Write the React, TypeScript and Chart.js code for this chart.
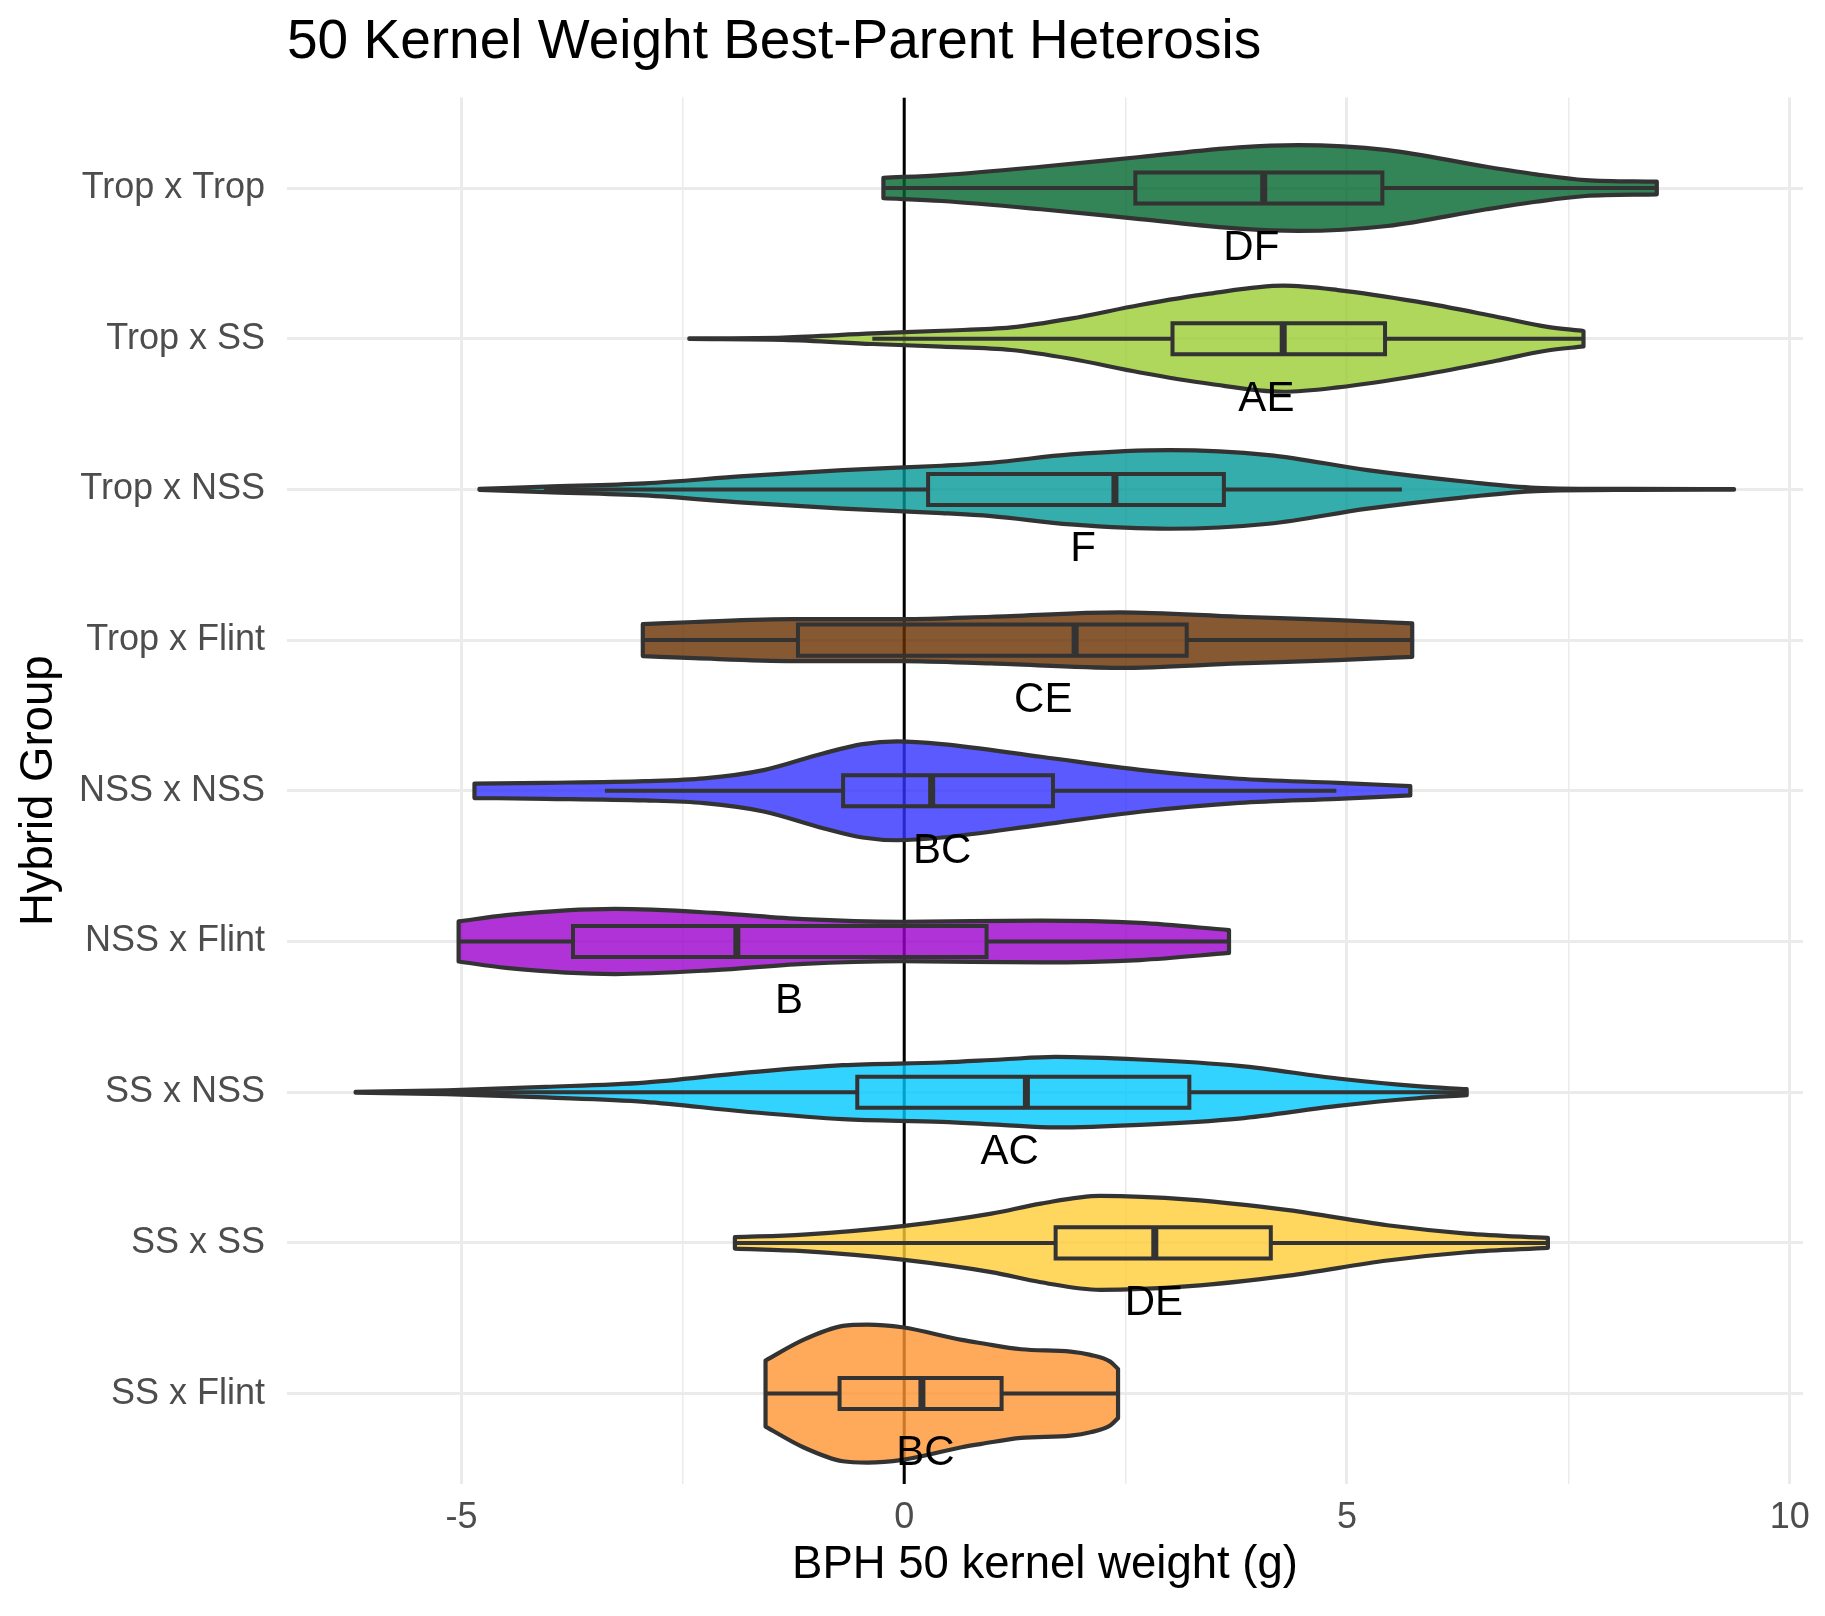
import React, { useEffect, useRef } from 'react';
import { Chart, registerables } from 'chart.js';

Chart.register(...registerables);

// ---------- data ----------
const categories = [
  'Trop x Trop', 'Trop x SS', 'Trop x NSS', 'Trop x Flint', 'NSS x NSS',
  'NSS x Flint', 'SS x NSS', 'SS x SS', 'SS x Flint',
];

const groupLetters = ['DF', 'AE', 'F', 'CE', 'BC', 'B', 'AC', 'DE', 'BC'];
const letterPositions = [3.92, 4.09, 2.02, 1.57, 0.43, -1.30, 1.19, 2.82, 0.24];

const whiskerLow = [-0.235, -0.36, -4.07, -2.95, -3.38, -5.03, -5.13, -1.91, -1.57];
const quartile1 = [2.61, 3.03, 0.27, -1.20, -0.69, -3.74, -0.53, 1.71, -0.73];
const medians = [4.06, 4.28, 2.38, 1.93, 0.31, -1.89, 1.38, 2.83, 0.20];
const quartile3 = [5.40, 5.43, 3.61, 3.19, 1.68, 0.93, 3.22, 4.14, 1.10];
const whiskerHigh = [8.50, 7.67, 5.62, 5.74, 4.88, 3.67, 6.35, 7.27, 2.42];

// density outline of each violin: BPH values and half-width (in category units)
const densityValues = [
  [-0.235, 0.425, 1.543, 2.662, 3.780, 4.450, 5.457, 6.576, 7.135, 7.694, 8.499],
  [-2.427, -1.364, -0.358, 0.425, 1.208, 1.879, 2.662, 3.445, 4.283, 4.898, 5.793, 6.688, 7.247, 7.671],
  [-4.797, -4.048, -2.930, -1.811, -0.693, 0.425, 0.984, 1.879, 2.997, 4.115, 5.233, 6.352, 7.135, 8.2, 9.371],
  [-2.952, -2.371, -1.252, -0.022, 0.984, 2.438, 3.780, 4.898, 5.737],
  [-4.853, -4.048, -2.930, -2.259, -1.588, -0.917, -0.470, -0.078, 0.425, 1.543, 2.662, 3.780, 4.898, 5.715],
  [-5.032, -4.495, -3.265, -2.147, -1.140, -0.022, 1.543, 2.662, 3.668],
  [-6.195, -5.166, -4.048, -2.930, -1.811, -0.693, 0.425, 1.096, 1.711, 2.662, 3.780, 4.898, 5.793, 6.352],
  [-1.912, -1.140, -0.022, 0.984, 1.543, 2.214, 3.221, 4.339, 5.457, 6.352, 7.269],
  [-1.566, -1.140, -0.693, -0.414, -0.022, 0.649, 0.872, 1.320, 1.879, 2.103, 2.326, 2.415],
];
const densityHalfWidths = [
  [0.068, 0.086, 0.141, 0.206, 0.270, 0.285, 0.252, 0.141, 0.091, 0.053, 0.042],
  [0.002, 0.008, 0.035, 0.053, 0.075, 0.133, 0.224, 0.299, 0.352, 0.323, 0.246, 0.146, 0.080, 0.051],
  [0.003, 0.018, 0.040, 0.088, 0.128, 0.157, 0.177, 0.232, 0.261, 0.228, 0.128, 0.051, 0.011, 0.003, 0.002],
  [0.106, 0.120, 0.139, 0.139, 0.155, 0.184, 0.155, 0.133, 0.111],
  [0.048, 0.053, 0.064, 0.082, 0.137, 0.248, 0.310, 0.328, 0.310, 0.226, 0.139, 0.080, 0.053, 0.031],
  [0.133, 0.175, 0.216, 0.190, 0.148, 0.131, 0.139, 0.123, 0.076],
  [0.003, 0.013, 0.035, 0.064, 0.128, 0.179, 0.197, 0.217, 0.234, 0.217, 0.175, 0.091, 0.040, 0.020],
  [0.038, 0.055, 0.111, 0.194, 0.261, 0.312, 0.287, 0.217, 0.117, 0.062, 0.033],
  [0.219, 0.356, 0.449, 0.458, 0.440, 0.356, 0.334, 0.294, 0.279, 0.257, 0.212, 0.163],
];

const fillColors = [
  'rgba(0, 103, 46, 0.8)',
  'rgba(154, 205, 50, 0.8)',
  'rgba(2, 152, 152, 0.8)',
  'rgba(105, 48, 0, 0.8)',
  'rgba(49, 49, 255, 0.8)',
  'rgba(155, 0, 205, 0.8)',
  'rgba(0, 200, 255, 0.8)',
  'rgba(255, 204, 54, 0.8)',
  'rgba(255, 149, 49, 0.8)',
];

const xTickValues = [-5, -2.5, 0, 2.5, 5, 7.5, 10];

const FONT = "'Liberation Sans', Arial, Helvetica, sans-serif";

// ---------- helpers ----------
type P = { x: number; y: number };

function monotoneTangents(pts: P[]): number[] {
  const n = pts.length;
  const d: number[] = [];
  for (let i = 0; i < n - 1; i++) {
    const dx = pts[i + 1].x - pts[i].x;
    d.push(dx === 0 ? 0 : (pts[i + 1].y - pts[i].y) / dx);
  }
  const m: number[] = new Array(n).fill(0);
  m[0] = d[0];
  m[n - 1] = d[n - 2];
  for (let i = 1; i < n - 1; i++) {
    m[i] = d[i - 1] * d[i] <= 0 ? 0 : (d[i - 1] + d[i]) / 2;
  }
  for (let i = 0; i < n - 1; i++) {
    if (d[i] === 0) {
      m[i] = 0;
      m[i + 1] = 0;
      continue;
    }
    const a = m[i] / d[i];
    const b = m[i + 1] / d[i];
    const s = a * a + b * b;
    if (s > 9) {
      const t = 3 / Math.sqrt(s);
      m[i] = t * a * d[i];
      m[i + 1] = t * b * d[i];
    }
  }
  return m;
}

function traceMonotone(ctx: CanvasRenderingContext2D, pts: P[], reverse: boolean) {
  const m = monotoneTangents(pts);
  const n = pts.length;
  if (!reverse) {
    for (let i = 0; i < n - 1; i++) {
      const dx = pts[i + 1].x - pts[i].x;
      ctx.bezierCurveTo(
        pts[i].x + dx / 3, pts[i].y + (m[i] * dx) / 3,
        pts[i + 1].x - dx / 3, pts[i + 1].y - (m[i + 1] * dx) / 3,
        pts[i + 1].x, pts[i + 1].y,
      );
    }
  } else {
    for (let i = n - 1; i > 0; i--) {
      const dx = pts[i].x - pts[i - 1].x;
      ctx.bezierCurveTo(
        pts[i].x - dx / 3, pts[i].y - (m[i] * dx) / 3,
        pts[i - 1].x + dx / 3, pts[i - 1].y + (m[i - 1] * dx) / 3,
        pts[i - 1].x, pts[i - 1].y,
      );
    }
  }
}

const violinPlugin = {
  id: 'violinPlugin',
  beforeDatasetsDraw(chart: any) {
    const { ctx, chartArea, scales } = chart;
    const xs = scales.x;
    const ys = scales.y;
    ctx.save();
    ctx.beginPath();
    ctx.rect(chartArea.left, chartArea.top, chartArea.right - chartArea.left, chartArea.bottom - chartArea.top);
    ctx.clip();

    // vertical reference line at zero
    const x0 = xs.getPixelForValue(0);
    ctx.strokeStyle = '#000000';
    ctx.lineWidth = 3;
    ctx.beginPath();
    ctx.moveTo(x0, chartArea.top);
    ctx.lineTo(x0, chartArea.bottom);
    ctx.stroke();

    categories.forEach((_, i) => {
      const cy = ys.getPixelForValue(i);
      const unit = Math.abs(ys.getPixelForValue(i + 1) - cy);
      const vals = densityValues[i];
      const hws = densityHalfWidths[i];
      const upper: P[] = vals.map((v, k) => ({ x: xs.getPixelForValue(v), y: cy - hws[k] * unit }));
      const lower: P[] = vals.map((v, k) => ({ x: xs.getPixelForValue(v), y: cy + hws[k] * unit }));
      const n = vals.length;

      ctx.beginPath();
      ctx.moveTo(lower[0].x, lower[0].y);
      ctx.lineTo(upper[0].x, upper[0].y);
      traceMonotone(ctx, upper, false);
      ctx.lineTo(lower[n - 1].x, lower[n - 1].y);
      traceMonotone(ctx, lower, true);
      ctx.closePath();
      ctx.fillStyle = fillColors[i];
      ctx.fill();
      ctx.strokeStyle = '#333333';
      ctx.lineWidth = 4.2;
      ctx.lineJoin = 'round';
      ctx.stroke();

      // boxplot
      const boxHalf = 0.103 * unit;
      const pLow = xs.getPixelForValue(whiskerLow[i]);
      const pQ1 = xs.getPixelForValue(quartile1[i]);
      const pMed = xs.getPixelForValue(medians[i]);
      const pQ3 = xs.getPixelForValue(quartile3[i]);
      const pHigh = xs.getPixelForValue(whiskerHigh[i]);
      ctx.strokeStyle = '#333333';
      ctx.lineWidth = 4;
      ctx.lineCap = 'butt';
      ctx.lineJoin = 'miter';
      ctx.beginPath();
      ctx.moveTo(pLow, cy);
      ctx.lineTo(pQ1, cy);
      ctx.moveTo(pQ3, cy);
      ctx.lineTo(pHigh, cy);
      ctx.stroke();
      ctx.beginPath();
      ctx.rect(pQ1, cy - boxHalf, pQ3 - pQ1, 2 * boxHalf);
      ctx.stroke();
      ctx.lineWidth = 7;
      ctx.beginPath();
      ctx.moveTo(pMed, cy - boxHalf);
      ctx.lineTo(pMed, cy + boxHalf);
      ctx.stroke();
    });

    // group letters
    ctx.fillStyle = '#000000';
    ctx.font = `42px ${FONT}`;
    ctx.textAlign = 'center';
    ctx.textBaseline = 'middle';
    categories.forEach((_, i) => {
      ctx.fillText(groupLetters[i], xs.getPixelForValue(letterPositions[i]), ys.getPixelForValue(i + 0.4));
    });
    ctx.restore();
  },
};

export default function App() {
  const canvasRef = useRef<HTMLCanvasElement | null>(null);

  useEffect(() => {
    document.body.style.margin = '0';
    const canvas = canvasRef.current;
    if (!canvas) return;
    const chart = new Chart(canvas, {
      type: 'scatter',
      data: { datasets: [] },
      plugins: [violinPlugin],
      options: {
        animation: false,
        responsive: false,
        maintainAspectRatio: false,
        devicePixelRatio: 1,
        layout: { padding: { left: 0, right: 22, top: 0, bottom: 0 } },
        plugins: {
          legend: { display: false },
          tooltip: { enabled: false },
          title: {
            display: true,
            text: '50 Kernel Weight Best-Parent Heterosis',
            align: 'start',
            fullSize: false,
            color: '#000000',
            font: { family: FONT, size: 55, weight: 'normal' },
            padding: { top: 10.3, bottom: 21.3 },
          },
        },
        scales: {
          x: {
            type: 'linear',
            position: 'bottom',
            min: -6.97,
            max: 10.15,
            afterBuildTicks: (scale: any) => {
              scale.ticks = xTickValues.map((v) => ({ value: v }));
            },
            afterFit: (scale: any) => {
              scale.height = 132;
            },
            ticks: {
              autoSkip: false,
              maxRotation: 0,
              padding: 12.4,
              color: '#4D4D4D',
              font: { family: FONT, size: 36 },
              callback: (v: any) => (Number(v) % 5 === 0 ? String(v) : ''),
            },
            grid: {
              color: '#EBEBEB',
              drawTicks: false,
              lineWidth: (c: any) => (c.tick && Number(c.tick.value) % 5 === 0 ? 3 : 1.5),
            },
            border: { display: false },
            title: {
              display: true,
              text: 'BPH 50 kernel weight (g)',
              color: '#000000',
              font: { family: FONT, size: 45.5 },
              padding: { top: 0, bottom: 22.9 },
            },
          },
          y: {
            type: 'linear',
            reverse: true,
            min: -0.6,
            max: 8.6,
            afterBuildTicks: (scale: any) => {
              scale.ticks = categories.map((_, i) => ({ value: i }));
            },
            afterFit: (scale: any) => {
              scale.width = 287;
            },
            ticks: {
              autoSkip: false,
              padding: 22,
              color: '#4D4D4D',
              font: { family: FONT, size: 36 },
              callback: (v: any) => categories[Number(v)] ?? '',
            },
            grid: { color: '#EBEBEB', drawTicks: false, lineWidth: 3 },
            border: { display: false },
            title: {
              display: true,
              text: 'Hybrid Group',
              color: '#000000',
              font: { family: FONT, size: 45.5 },
              padding: { top: 11.7, bottom: 0 },
            },
          },
        },
      },
    } as any);
    return () => chart.destroy();
  }, []);

  return (
    <div style={{ width: 1825, height: 1616 }}>
      <canvas ref={canvasRef} width={1825} height={1616} style={{ display: 'block' }} />
    </div>
  );
}
